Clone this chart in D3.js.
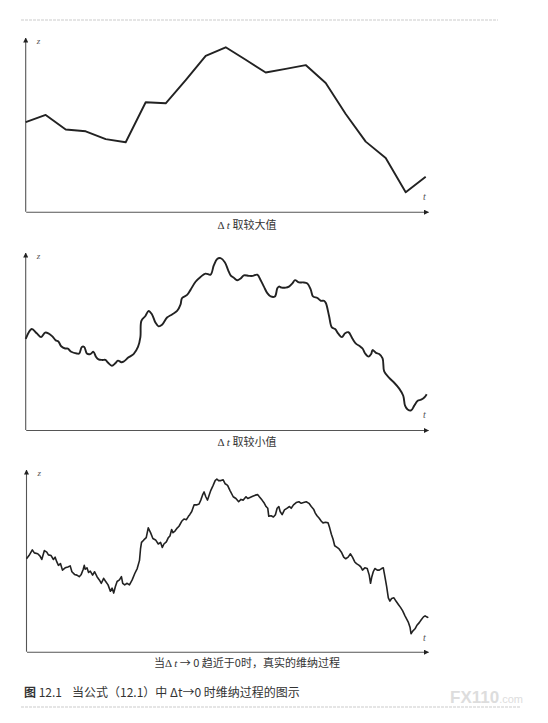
<!DOCTYPE html>
<html><head><meta charset="utf-8">
<script src="https://cdn.jsdelivr.net/npm/d3@7"></script>
<style>
body{margin:0;background:#fff;}
svg{display:block;}
</style></head>
<body>
<svg id="chart" width="548" height="723"></svg>
<script>
// ---- data (z in arbitrary units 0..100, t in coarse steps 0..20) ----
const coarseZ = [52.8,57.0,48.4,47.4,42.8,40.9,64.5,63.9,77.5,91.8,96.9,89.5,82.0,84.2,86.4,75.8,57.6,41.3,31.7,11.5,20.6];

const mediumT = [0,0.30,0.55,0.77,0.97,1.13,1.33,1.5,1.63,1.77,1.97,2.1,2.27,2.55,2.67,2.8,2.92,3.05,3.22,3.38,3.5,3.63,3.83,3.97,4.1,4.3,4.47,4.6,4.77,4.88,5.13,5.38,5.6,5.72,5.77,5.97,6.13,6.3,6.47,6.63,6.8,7.05,7.3,7.55,7.72,7.8,8.05,8.22,8.47,8.72,8.97,9.22,9.38,9.55,9.72,9.93,10.1,10.22,10.38,10.55,10.72,10.88,11.13,11.33,11.55,11.72,11.88,12.05,12.22,12.43,12.55,12.63,12.77,12.97,13.13,13.3,13.43,13.63,13.83,14.05,14.22,14.33,14.55,14.72,14.88,14.97,15.13,15.27,15.43,15.6,15.77,15.93,16.1,16.3,16.47,16.67,16.8,16.93,17.1,17.23,17.3,17.47,17.63,17.8,17.88,18.13,18.38,18.63,18.83,18.92,19.05,19.22,19.38,19.55,19.72,19.88,20];
const mediumZ = [52.7,58.4,55.9,53.7,56.3,55.9,54.1,51.8,51.2,48.4,47.1,47.1,45.2,44.2,44.2,48.0,48.0,44.2,43.9,45.2,42.4,40.8,40.5,40.5,39.0,37.1,38.6,40.1,39.2,39.5,42.0,43.9,48.0,53.7,63.1,65.9,68.8,66.8,62.1,59.9,60.8,65.0,66.8,68.8,72.5,76.3,78.1,81.0,85.7,88.5,90.4,89.8,95.1,98.9,99.3,97.0,92.3,89.4,88.0,86.6,87.6,89.4,89.1,89.1,89.8,86.6,82.9,79.1,77.2,77.2,81.9,82.9,82.3,82.3,82.9,84.7,86.6,85.3,85.3,84.7,81.0,77.2,76.3,74.7,74.7,73.4,65.9,59.3,58.4,55.5,53.7,55.9,56.5,52.7,49.9,48.4,47.1,44.2,42.4,43.9,46.2,44.6,43.9,41.4,33.9,30.1,27.3,23.9,19.8,14.1,11.9,11.3,14.1,16.9,17.5,18.8,20.7];

const fineT = [0,0.125,0.29,0.39,0.56,0.675,0.76,0.89,1.01,1.09,1.225,1.34,1.425,1.51,1.59,1.69,1.79,1.925,2.06,2.175,2.26,2.39,2.51,2.625,2.725,2.825,2.875,2.925,3.01,3.09,3.175,3.29,3.39,3.51,3.625,3.725,3.84,3.925,4.06,4.175,4.26,4.34,4.425,4.51,4.625,4.725,4.79,4.89,5.01,5.125,5.26,5.39,5.51,5.625,5.675,5.725,5.84,5.96,6.06,6.175,6.29,6.425,6.56,6.675,6.76,6.84,6.96,7.06,7.14,7.225,7.29,7.39,7.51,7.59,7.725,7.84,7.96,8.06,8.125,8.225,8.34,8.46,8.59,8.675,8.76,8.84,8.925,9.01,9.09,9.175,9.29,9.39,9.475,9.56,9.675,9.79,9.89,10.01,10.125,10.29,10.425,10.56,10.675,10.79,10.925,11.01,11.125,11.26,11.39,11.51,11.59,11.725,11.84,11.925,12.01,12.06,12.175,12.29,12.39,12.475,12.56,12.625,12.725,12.84,12.96,13.09,13.175,13.29,13.425,13.56,13.675,13.79,13.925,14.06,14.175,14.29,14.375,14.46,14.56,14.675,14.76,14.89,15.01,15.09,15.175,15.26,15.34,15.46,15.56,15.675,15.79,15.89,16.01,16.125,16.225,16.34,16.425,16.56,16.64,16.725,16.84,16.96,17.06,17.125,17.19,17.26,17.34,17.46,17.56,17.675,17.76,17.84,17.925,18.01,18.09,18.175,18.29,18.39,18.51,18.625,18.725,18.84,18.925,19.01,19.09,19.14,19.225,19.34,19.425,19.56,19.64,19.76,19.84,19.96,20];
const fineZ = [52.3,54.1,57.3,55.6,55.1,53.8,51.9,56.9,56.0,54.5,54.1,51.9,53.2,50.5,48.6,49.6,45.9,47.2,47.7,48.3,45.0,43.5,43.1,42.2,43.5,46.4,48.6,46.4,47.2,44.6,45.3,43.1,45.0,42.2,40.4,38.5,41.3,39.8,37.6,34.0,35.8,33.0,36.7,39.5,40.4,42.2,38.5,37.6,38.5,37.6,40.4,44.0,46.8,51.4,57.8,61.5,62.9,64.2,69.7,67.0,63.7,62.9,60.6,61.5,58.7,60.6,61.8,64.2,65.1,68.8,67.0,67.9,69.7,70.6,73.4,74.7,74.3,76.2,77.1,78.9,82.6,82.6,83.1,85.3,88.1,89.9,87.2,85.3,88.1,90.8,93.6,96.3,97.2,96.3,96.3,96.7,94.5,93.6,90.8,87.2,86.2,84.4,85.7,85.3,87.2,86.2,86.8,87.5,88.1,88.4,87.2,85.3,83.5,81.7,80.7,76.2,76.5,75.8,77.1,80.7,81.7,78.9,77.1,79.8,80.7,81.7,80.7,82.6,83.9,84.4,83.5,83.9,84.4,83.5,81.7,80.2,78.0,76.5,75.2,73.4,72.5,72.8,72.5,69.7,66.1,63.3,59.6,58.7,57.8,56.0,53.2,52.3,53.2,55.1,53.2,50.5,49.6,48.6,47.7,45.9,47.2,46.8,43.1,38.5,42.2,45.0,46.8,45.9,45.9,46.8,47.2,42.2,36.7,30.3,28.5,29.9,30.3,28.5,26.6,24.8,23.0,20.2,18.4,16.5,13.8,10.1,11.6,12.9,14.7,16.5,17.8,19.6,20.2,19.3,19.6];

const panelCaptions = ["取较大值","取较小值"];
const bottomCaptionParts = ["当","Δ ","t"," → 0 趋近于0时，真实的维纳过程"];
const figureNo = "图";
const figureNum = "12.1";
const figureTitle = "当公式（12.1）中 Δt→0 时维纳过程的图示";

// ---- drawing ----
const svg = d3.select("#chart");
const defs = svg.append("defs");
defs.append("marker").attr("id","arr").attr("viewBox","0 0 10 10")
  .attr("refX",9).attr("refY",5).attr("markerWidth",5).attr("markerHeight",5)
  .attr("markerUnits","userSpaceOnUse").attr("orient","auto")
  .append("path").attr("d","M0,0L10,5L0,10Z").attr("fill","#222");

svg.append("line").attr("x1",21).attr("x2",498).attr("y1",20).attr("y2",20)
  .attr("stroke","#ccc").attr("stroke-width",1.2).attr("stroke-dasharray","3,1");
svg.append("line").attr("x1",21).attr("x2",520).attr("y1",707).attr("y2",707)
  .attr("stroke","#ccc").attr("stroke-width",1.2).attr("stroke-dasharray","3,1");

const serifFont = "Liberation Serif, DejaVu Serif, serif";
const cjkFont = "Noto Sans CJK SC, sans-serif";

const panels = [
  {left:25.7, right:425.7, axisEnd:428, top:38, base:211.7, pts: coarseZ.map((z,i)=>[i,z]), curve:d3.curveLinear, w:1.9, tY:200},
  {left:25.7, right:426.7, axisEnd:428, top:253, base:430, pts: mediumT.map((t,i)=>[t,mediumZ[i]]), curve:d3.curveCatmullRom.alpha(0.5), w:1.9, tY:418},
  {left:26.5, right:428.3, axisEnd:428, top:470, base:651.7, pts: fineT.map((t,i)=>[t,fineZ[i]]), curve:d3.curveLinear, w:1.6, tY:641}
];

panels.forEach((p,k)=>{
  const x = d3.scaleLinear().domain([0,20]).range([p.left,p.right]);
  const y = d3.scaleLinear().domain([0,100]).range([p.base,p.top+4]);
  const g = svg.append("g");
  const xa = d3.scaleLinear().domain([0,20]).range([p.left,p.axisEnd]);
  const ya = d3.scaleLinear().domain([0,100]).range([p.base,p.top]);
  const gx = g.append("g").attr("transform",`translate(0,${p.base})`)
    .call(d3.axisBottom(xa).tickValues([]).tickSizeOuter(0));
  gx.select(".domain").attr("stroke","#555").attr("stroke-width",1.1).attr("marker-end","url(#arr)");
  const gy = g.append("g").attr("transform",`translate(${p.left},0)`)
    .call(d3.axisLeft(ya).tickValues([]).tickSizeOuter(0));
  gy.select(".domain").attr("d",`M0,${p.base}V${p.top}`).attr("stroke","#555").attr("stroke-width",1.1).attr("marker-end","url(#arr)");
  g.append("text").attr("x",p.left+11).attr("y",p.top+6).text("z")
    .attr("font-family",serifFont).attr("font-style","italic").attr("font-size",9).attr("fill","#555");
  g.append("text").attr("x",p.axisEnd-5).attr("y",p.tY).text("t")
    .attr("font-family",serifFont).attr("font-style","italic").attr("font-size",10).attr("fill","#555");
  g.append("path").datum(p.pts)
    .attr("d", d3.line().x(d=>x(d[0])).y(d=>y(d[1])).curve(p.curve))
    .attr("fill","none").attr("stroke","#222").attr("stroke-width",p.w).attr("stroke-linejoin","round");
});

[229,446].forEach((yy,i)=>{
  const t = svg.append("text").attr("x",247).attr("y",yy).attr("text-anchor","middle")
    .attr("font-size",11).attr("fill","#333").attr("font-family",cjkFont);
  t.append("tspan").text("Δ ").attr("font-family",serifFont);
  t.append("tspan").text("t ").attr("font-style","italic").attr("font-family",serifFont);
  t.append("tspan").text(panelCaptions[i]);
});
const bc = svg.append("text").attr("x",247).attr("y",667).attr("text-anchor","middle")
  .attr("font-size",11).attr("fill","#333").attr("font-family",cjkFont);
bc.append("tspan").text(bottomCaptionParts[0]);
bc.append("tspan").text(bottomCaptionParts[1]).attr("font-family",serifFont);
bc.append("tspan").text(bottomCaptionParts[2]).attr("font-style","italic").attr("font-family",serifFont);
bc.append("tspan").text(bottomCaptionParts[3]);

const fc = svg.append("text").attr("x",24).attr("y",697).attr("font-size",12).attr("fill","#333")
  .attr("font-family",cjkFont);
fc.append("tspan").text(figureNo).attr("font-weight","bold");
fc.append("tspan").text(" " + figureNum);
svg.append("text").attr("x",72).attr("y",697).attr("font-size",12).attr("fill","#333")
  .attr("font-family",cjkFont).text(figureTitle);

const wm = svg.append("text").attr("x",450).attr("y",703).attr("fill","#ddd")
  .attr("font-family","Liberation Sans, sans-serif");
wm.append("tspan").text("FX110").attr("font-size",17).attr("font-weight","bold");
wm.append("tspan").text(".com").attr("font-size",11);
</script>
</body></html>
